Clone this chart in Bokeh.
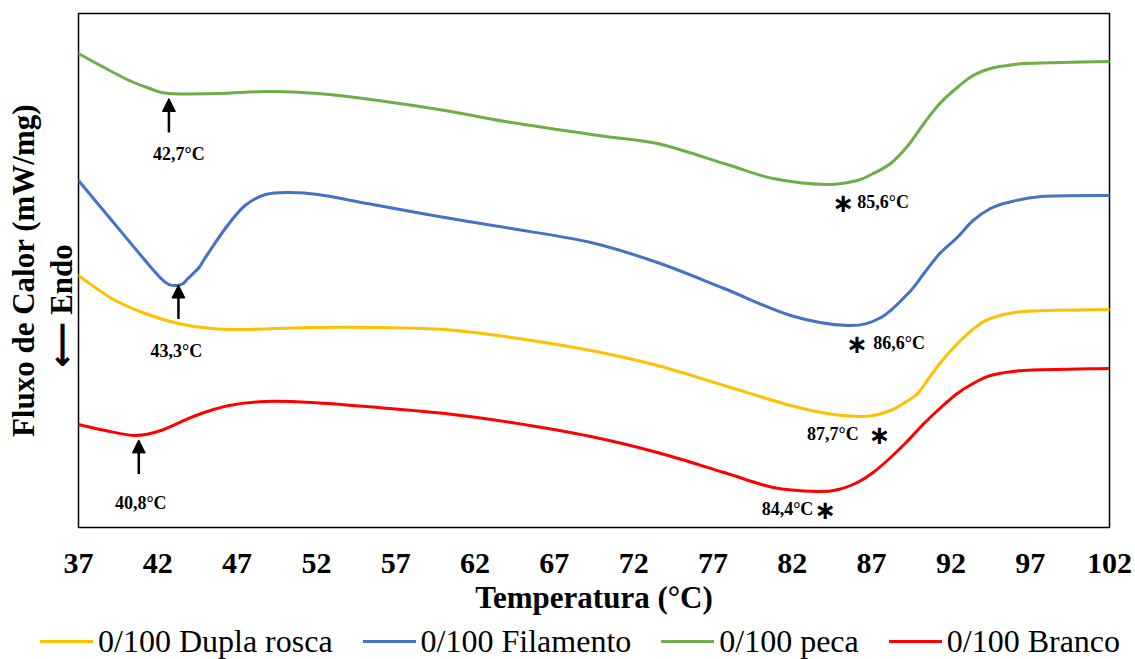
from bokeh.plotting import figure
from bokeh.models import (Range1d, LinearAxis, FixedTicker, Label, Arrow,
                          NormalHead, Div)
from bokeh.layouts import column
from bokeh.embed import file_html
from bokeh.resources import INLINE
import numpy as np

# ---- DSC curves (temperature in °C, heat flow in arbitrary offset units) ----
temp_dupla = [37.0, 39.1, 41.2, 43.3, 45.4, 47.5, 51.7, 55.9, 60.1, 64.3, 69.3,
              73.5, 77.7, 81.9, 84.2, 86.1, 87.1, 88.2, 89.1, 89.9, 90.6, 91.3,
              92.0, 92.8, 93.7, 94.5, 96.6, 102.0]
flux_dupla = [2.52, 2.29, 2.14, 2.04, 1.99, 1.98, 2.00, 2.00, 1.98, 1.90, 1.77,
              1.62, 1.42, 1.22, 1.14, 1.11, 1.12, 1.17, 1.25, 1.34, 1.49, 1.64,
              1.77, 1.90, 2.02, 2.09, 2.16, 2.18]

temp_filamento = [37.0, 39.1, 41.2, 42.2, 42.7, 43.2, 43.6, 43.9, 44.6, 45.0,
                  46.3, 47.5, 48.8, 50.2, 52.1, 55.9, 60.1, 64.3, 69.3, 73.5,
                  77.7, 81.9, 85.5, 87.6, 89.3, 90.3, 91.3, 92.4, 93.4,
                  94.5, 95.6, 97.7, 102.0]
flux_filamento = [3.47, 3.07, 2.67, 2.49, 2.43, 2.42, 2.44, 2.49, 2.60, 2.70,
                  3.00, 3.22, 3.33, 3.35, 3.33, 3.22, 3.10, 2.99, 2.85, 2.65,
                  2.39, 2.12, 2.02, 2.10, 2.34, 2.54, 2.74, 2.90, 3.07,
                  3.19, 3.25, 3.31, 3.32]

temp_peca = [37.0, 38.5, 40.2, 41.5, 42.7, 45.8, 49.0, 52.1, 55.9, 60.1, 64.3,
             69.8, 73.5, 77.7, 80.8, 84.2, 86.1, 87.1, 88.2, 89.3, 90.3, 91.3,
             92.4, 93.4, 94.5, 95.6, 96.6, 99.0, 102.0]
flux_peca = [4.74, 4.61, 4.47, 4.39, 4.34, 4.34, 4.36, 4.34, 4.27, 4.17, 4.05,
             3.92, 3.84, 3.64, 3.49, 3.43, 3.47, 3.54, 3.64, 3.82, 4.04, 4.24,
             4.40, 4.52, 4.59, 4.62, 4.64, 4.65, 4.66]

temp_branco = [37.0, 38.7, 40.6, 42.2, 44.4, 46.5, 48.8, 51.7, 55.9, 60.1, 64.3,
               69.3, 73.5, 77.7, 80.8, 83.6, 84.9, 86.1, 87.1, 88.2, 89.3, 90.3,
               91.3, 92.4, 93.4, 94.5, 96.6, 102.0]
flux_branco = [1.03, 0.97, 0.92, 0.97, 1.12, 1.22, 1.26, 1.25, 1.20, 1.14, 1.05,
               0.91, 0.75, 0.55, 0.40, 0.36, 0.38, 0.45, 0.55, 0.70, 0.87, 1.04,
               1.19, 1.34, 1.44, 1.52, 1.57, 1.59]

series_names = ["0/100 Dupla rosca", "0/100 Filamento", "0/100 peca", "0/100 Branco"]

# transition temperatures marked on the curves
onset_series = ["0/100 peca", "0/100 Filamento", "0/100 Branco"]
onset_temps = [42.7, 43.3, 40.8]
peak_series = ["0/100 peca", "0/100 Filamento", "0/100 Dupla rosca", "0/100 Branco"]
peak_temps = [85.6, 86.6, 87.7, 84.4]

x_ticks = [37, 42, 47, 52, 57, 62, 67, 72, 77, 82, 87, 92, 97, 102]

# ---- styling ----
colors = {"0/100 Dupla rosca": "#FFC000", "0/100 Filamento": "#4472C4",
          "0/100 peca": "#70AD47", "0/100 Branco": "#FF0000"}
curves = {"0/100 Dupla rosca": (temp_dupla, flux_dupla),
          "0/100 Filamento": (temp_filamento, flux_filamento),
          "0/100 peca": (temp_peca, flux_peca),
          "0/100 Branco": (temp_branco, flux_branco)}

SERIF = "Liberation Serif"
WIDTH = 1135
FRAME_W, FRAME_H = 1031, 514
BOTTOM = 100          # room for tick labels and axis title
LEGEND_H = 659 - 13 - FRAME_H - BOTTOM
X_MIN, X_MAX = 37, 102
Y_MIN, Y_MAX = 0.0, 5.14
PX = (Y_MAX - Y_MIN) / FRAME_H      # data units per pixel, vertical
NBSP = "\u00a0"


def fmt(t):
    return f"{t:.1f}".replace(".", ",") + "°C"


def smooth_segments(xs, ys):
    """Cubic Bezier pieces through every point (Catmull-Rom tangents)."""
    x = np.asarray(xs, float)
    y = np.asarray(ys, float)
    n = len(x)
    i = np.arange(n - 1)
    im = np.clip(i - 1, 0, n - 1)
    ip2 = np.clip(i + 2, 0, n - 1)
    cx0 = x[i] + (x[i + 1] - x[im]) / 6
    cy0 = y[i] + (y[i + 1] - y[im]) / 6
    cx1 = x[i + 1] - (x[ip2] - x[i]) / 6
    cy1 = y[i + 1] - (y[ip2] - y[i]) / 6
    return dict(x0=x[:-1], y0=y[:-1], x1=x[1:], y1=y[1:],
                cx0=cx0, cy0=cy0, cx1=cx1, cy1=cy1)


p = figure(frame_width=FRAME_W, frame_height=FRAME_H,
           x_range=Range1d(X_MIN, X_MAX), y_range=Range1d(Y_MIN, Y_MAX),
           output_backend="svg", toolbar_location=None,
           min_border_left=78, min_border_right=WIDTH - 78 - FRAME_W,
           min_border_top=13, min_border_bottom=BOTTOM,
           background_fill_color="white", border_fill_color="white")
p.grid.visible = False
p.outline_line_color = "black"
p.outline_line_width = 1.5

# x axis
xa = p.xaxis[0]
xa.ticker = FixedTicker(ticks=x_ticks)
xa.major_tick_line_color = None
xa.minor_tick_line_color = None
xa.major_tick_out = 0
xa.major_tick_in = 0
xa.axis_line_color = None
xa.major_label_standoff = 26
xa.major_label_text_font = SERIF
xa.major_label_text_font_style = "bold"
xa.major_label_text_font_size = "30px"
xa.major_label_text_color = "black"
xa.axis_label = "Temperatura (°C)"
xa.axis_label_standoff = 4
xa.axis_label_text_font = SERIF
xa.axis_label_text_font_style = "bold"
xa.axis_label_text_font_size = "31px"
xa.axis_label_text_color = "black"


def label_only_axis(axis, text):
    axis.ticker = FixedTicker(ticks=[])
    axis.major_tick_line_color = None
    axis.minor_tick_line_color = None
    axis.major_tick_out = 0
    axis.major_label_standoff = 0
    axis.axis_line_color = None
    axis.axis_label = text
    axis.axis_label_standoff = 0
    axis.axis_label_text_font = SERIF
    axis.axis_label_text_font_style = "bold"
    axis.axis_label_text_font_size = "31px"
    axis.axis_label_text_color = "black"


# inner left axis: downward "endo" arrow and word (padded so the word
# sits centred on the frame); outer left axis: the quantity
label_only_axis(p.yaxis[0], "⟵ Endo" + NBSP * 9)
outer = LinearAxis()
label_only_axis(outer, "Fluxo de Calor (mW/mg)")
p.add_layout(outer, "left")

# curves, drawn as smooth piecewise Bezier lines through the points
for name in series_names:
    t, f = curves[name]
    p.bezier(line_color=colors[name], line_width=3, line_cap="round",
             **smooth_segments(t, f))

# onset arrows and labels
onset_layout = {"0/100 peca": (5, 21, 10), "0/100 Filamento": (0, 32, -2),
                "0/100 Branco": (5, 29, 2)}  # gap, label drop, label shift (px)
ARROW_LEN = 34
for name, t0 in zip(onset_series, onset_temps):
    t, f = curves[name]
    gap, drop, shift = onset_layout[name]
    tip = float(np.interp(t0, t, f)) - gap * PX
    tail = tip - ARROW_LEN * PX
    p.add_layout(Arrow(x_start=t0, y_start=tail, x_end=t0, y_end=tip,
                       line_color="black", line_width=2.5,
                       end=NormalHead(size=13, fill_color="black",
                                      line_color="black")))
    p.add_layout(Label(x=t0, y=tail - drop * PX, x_offset=shift, text=fmt(t0),
                       text_align="center", text_baseline="middle",
                       text_font=SERIF, text_font_style="bold",
                       text_font_size="18px", text_color="black"))

# peak labels with asterisk: (text side, text x shift, star x shift) in px
peak_layout = {"0/100 peca": ("left", 8, -6),
               "0/100 Filamento": ("left", 8, -8),
               "0/100 Dupla rosca": ("right", -24, -3),
               "0/100 Branco": ("right", -17, -5)}
for name, t0 in zip(peak_series, peak_temps):
    t, f = curves[name]
    side, tdx, sdx = peak_layout[name]
    ylab = min(f) - 17 * PX
    p.add_layout(Label(x=t0, y=ylab, x_offset=tdx, text=fmt(t0),
                       text_align=side, text_baseline="middle",
                       text_font=SERIF, text_font_style="bold",
                       text_font_size="18px", text_color="black"))
    p.add_layout(Label(x=t0, y=ylab - 1 * PX, x_offset=sdx, text="∗",
                       text_align="center", text_baseline="middle",
                       text_font="DejaVu Sans", text_font_style="bold",
                       text_font_size="26px", text_color="black"))

# ---- legend strip under the chart ----
swatch = ('<span style="display:inline-flex;align-items:center;">'
          '<span style="display:inline-block;width:53px;height:3px;'
          'background:{c};margin-right:5px;"></span>{n}</span>')
legend_html = (
    '<div style="display:flex;align-items:center;gap:30px;padding-left:40px;'
    f'height:{LEGEND_H}px;font-family:\'{SERIF}\';font-size:32px;'
    f'line-height:{LEGEND_H}px;white-space:nowrap;color:black;'
    'position:relative;top:-2px;">'
    + "".join(swatch.format(c=colors[n], n=n) for n in series_names)
    + '</div>')
legend_strip = Div(text=legend_html, width=WIDTH, height=LEGEND_H,
                   margin=(0, 0, 0, 0))

page = column(p, legend_strip, spacing=0)
open("out.html", "w").write(file_html(page, INLINE))
